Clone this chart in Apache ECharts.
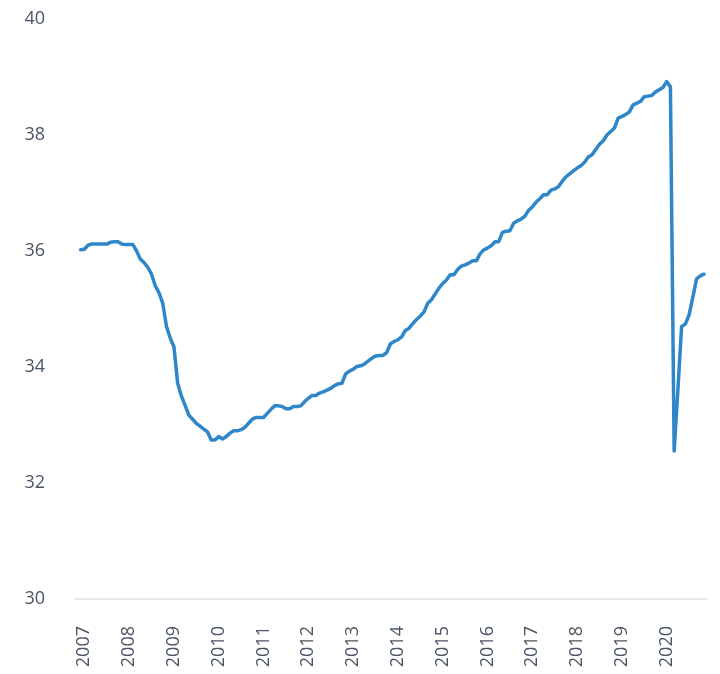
<!DOCTYPE html>
<html>
<head>
<meta charset="utf-8">
<script src="https://cdn.jsdelivr.net/npm/echarts@6/dist/echarts.min.js"></script>
<style>
  html, body { margin: 0; padding: 0; background: #ffffff; }
  #chart { width: 720px; height: 674px; }
</style>
</head>
<body>
<div id="chart"></div>
<script>
// Year tick labels (each label sits on January of that year)
const years = ['2007','2008','2009','2010','2011','2012','2013','2014','2015','2016','2017','2018','2019','2020'];

// Monthly values, Jan..Dec of each year
const v2007 = [36.02, 36.03, 36.10, 36.12, 36.12, 36.12, 36.12, 36.12, 36.15, 36.16, 36.16, 36.12];
const v2008 = [36.11, 36.11, 36.11, 36.00, 35.86, 35.80, 35.72, 35.60, 35.40, 35.28, 35.10, 34.70];
const v2009 = [34.50, 34.35, 33.72, 33.50, 33.34, 33.17, 33.10, 33.03, 32.98, 32.93, 32.88, 32.74];
const v2010 = [32.74, 32.80, 32.76, 32.80, 32.86, 32.90, 32.90, 32.92, 32.96, 33.03, 33.10, 33.13];
const v2011 = [33.13, 33.13, 33.20, 33.27, 33.33, 33.33, 33.32, 33.28, 33.28, 33.32, 33.32, 33.33];
const v2012 = [33.40, 33.46, 33.51, 33.51, 33.55, 33.57, 33.60, 33.63, 33.68, 33.71, 33.72, 33.88];
const v2013 = [33.93, 33.96, 34.01, 34.02, 34.05, 34.10, 34.15, 34.19, 34.20, 34.20, 34.25, 34.40];
const v2014 = [34.44, 34.47, 34.52, 34.63, 34.67, 34.75, 34.82, 34.88, 34.95, 35.10, 35.16, 35.26];
const v2015 = [35.36, 35.44, 35.50, 35.59, 35.59, 35.68, 35.74, 35.76, 35.79, 35.83, 35.83, 35.95];
const v2016 = [36.02, 36.05, 36.09, 36.16, 36.16, 36.32, 36.34, 36.35, 36.48, 36.52, 36.55, 36.60];
const v2017 = [36.70, 36.76, 36.84, 36.90, 36.97, 36.97, 37.05, 37.07, 37.11, 37.20, 37.28, 37.33];
const v2018 = [37.38, 37.43, 37.47, 37.53, 37.62, 37.66, 37.75, 37.84, 37.90, 38.00, 38.06, 38.12];
const v2019 = [38.29, 38.32, 38.35, 38.40, 38.52, 38.55, 38.58, 38.66, 38.67, 38.68, 38.74, 38.78];
const v2020 = [38.82, 38.92, 38.83, 32.55, 33.60, 34.70, 34.74, 34.90, 35.20, 35.52, 35.57, 35.60];

const values = [].concat(v2007, v2008, v2009, v2010, v2011, v2012, v2013,
                         v2014, v2015, v2016, v2017, v2018, v2019, v2020);
const seriesData = values.map((v, i) => [i, v]);
// label anchors: one month after each January, matching the reference's label offset
const labelOffset = 1;
const yearTicks = years.map((y, k) => k * 12 + labelOffset);

const textColor = '#4a5565';
const chart = echarts.init(document.getElementById('chart'));
chart.setOption({
  animation: false,
  backgroundColor: '#ffffff',
  grid: { left: 75, right: 13, top: 19, bottom: 75, containLabel: false },
  xAxis: {
    type: 'value',
    min: -1.5,
    max: 167.8,
    axisLine: { show: true, lineStyle: { color: '#dde2e8', width: 1.5 } },
    axisTick: { show: false },
    splitLine: { show: false },
    axisLabel: {
      customValues: yearTicks,
      rotate: 90,
      margin: 27,
      fontSize: 18,
      fontFamily: 'Open Sans',
      color: textColor,
      formatter: (v) => years[Math.round((v - labelOffset) / 12)]
    }
  },
  yAxis: {
    type: 'value',
    min: 30,
    max: 40,
    interval: 2,
    axisLine: { show: false },
    axisTick: { show: false },
    splitLine: { show: false },
    axisLabel: {
      margin: 30,
      fontSize: 18,
      fontFamily: 'Open Sans',
      color: textColor
    }
  },
  series: [{
    type: 'line',
    data: seriesData,
    showSymbol: false,
    symbol: 'none',
    lineStyle: { color: '#2f86c8', width: 3.5, cap: 'round', join: 'round' },
    z: 3
  }]
});
</script>
</body>
</html>
